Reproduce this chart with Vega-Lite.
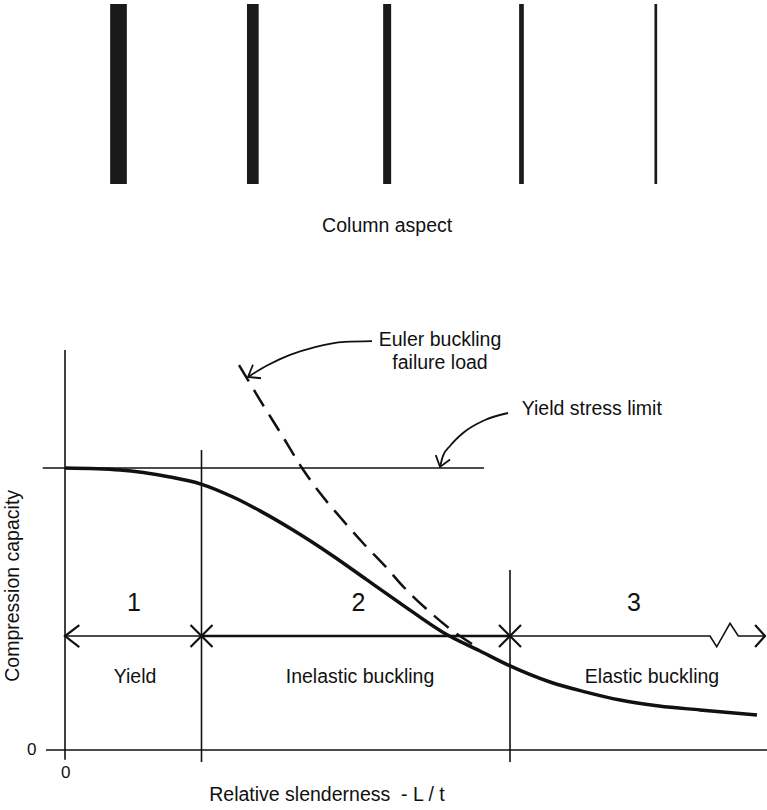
{
  "$schema": "https://vega.github.io/schema/vega-lite/v6.json",
  "padding": 0,
  "spacing": 0,
  "background": "white",
  "config": {"view": {"stroke": null}, "font": "Liberation Sans"},
  "datasets": {
    "columns": [
      {"column": 1, "thickness": 16.7, "bottom": 0, "top": 1},
      {"column": 2, "thickness": 11.7, "bottom": 0, "top": 1},
      {"column": 3, "thickness": 8.0, "bottom": 0, "top": 1},
      {"column": 4, "thickness": 4.7, "bottom": 0, "top": 1},
      {"column": 5, "thickness": 2.7, "bottom": 0, "top": 1}
    ],
    "frame": [
      {"name": "capacity axis", "x": 0, "x2": 0, "y": -0.035, "y2": 1.418},
      {"name": "slenderness axis", "x": -0.19, "x2": 7.02, "y": 0, "y2": 0},
      {"name": "yield stress limit", "x": -0.223, "x2": 4.19, "y": 1.0, "y2": 1.0},
      {"name": "yield / inelastic", "x": 1.365, "x2": 1.365, "y": -0.043, "y2": 1.064},
      {"name": "inelastic / elastic", "x": 4.45, "x2": 4.45, "y": -0.043, "y2": 0.638}
    ],
    "zones": [
      {"span": "yield", "weight": "outer", "order": 1, "x": 0, "y": 0.404},
      {"span": "yield", "weight": "outer", "order": 2, "x": 1.365, "y": 0.404},
      {"span": "inelastic", "weight": "inner", "order": 1, "x": 1.365, "y": 0.404},
      {"span": "inelastic", "weight": "inner", "order": 2, "x": 4.45, "y": 0.404},
      {"span": "elastic", "weight": "outer", "order": 1, "x": 4.45, "y": 0.404},
      {"span": "elastic", "weight": "outer", "order": 2, "x": 6.45, "y": 0.404},
      {"span": "elastic", "weight": "outer", "order": 3, "x": 6.517, "y": 0.366},
      {"span": "elastic", "weight": "outer", "order": 4, "x": 6.65, "y": 0.449},
      {"span": "elastic", "weight": "outer", "order": 5, "x": 6.733, "y": 0.404},
      {"span": "elastic", "weight": "outer", "order": 6, "x": 7.0, "y": 0.404}
    ],
    "markers": [
      {"marker": "start", "x": 0, "y": 0.404},
      {"marker": "divider", "x": 1.365, "y": 0.404},
      {"marker": "divider", "x": 4.45, "y": 0.404},
      {"marker": "end", "x": 7.0, "y": 0.404}
    ],
    "capacity": [
      {"x": 0, "y": 1.0},
      {"x": 0.55, "y": 0.993},
      {"x": 1.05, "y": 0.968},
      {"x": 1.36, "y": 0.943},
      {"x": 1.68, "y": 0.897},
      {"x": 1.95, "y": 0.848},
      {"x": 2.28, "y": 0.78},
      {"x": 2.68, "y": 0.688},
      {"x": 3.02, "y": 0.603},
      {"x": 3.35, "y": 0.521},
      {"x": 3.79, "y": 0.415},
      {"x": 4.15, "y": 0.351},
      {"x": 4.45, "y": 0.298},
      {"x": 4.85, "y": 0.241},
      {"x": 5.2, "y": 0.206},
      {"x": 5.55, "y": 0.177},
      {"x": 5.94, "y": 0.156},
      {"x": 6.35, "y": 0.142},
      {"x": 6.92, "y": 0.124}
    ],
    "euler": [
      {"x": 1.74, "y": 1.365},
      {"x": 1.95, "y": 1.241},
      {"x": 2.18, "y": 1.11},
      {"x": 2.37, "y": 1.0},
      {"x": 2.55, "y": 0.911},
      {"x": 2.75, "y": 0.826},
      {"x": 2.98, "y": 0.734},
      {"x": 3.22, "y": 0.645},
      {"x": 3.35, "y": 0.592},
      {"x": 3.65, "y": 0.489},
      {"x": 3.92, "y": 0.411},
      {"x": 4.07, "y": 0.376}
    ],
    "pointers": [
      {"arrow": "euler", "x": 3.07, "y": 1.45},
      {"arrow": "euler", "x": 2.8, "y": 1.447},
      {"arrow": "euler", "x": 2.5, "y": 1.429},
      {"arrow": "euler", "x": 2.25, "y": 1.401},
      {"arrow": "euler", "x": 2.03, "y": 1.365},
      {"arrow": "euler", "x": 1.83, "y": 1.323},
      {"arrow": "yield", "x": 4.43, "y": 1.195},
      {"arrow": "yield", "x": 4.2, "y": 1.17},
      {"arrow": "yield", "x": 3.98, "y": 1.124},
      {"arrow": "yield", "x": 3.85, "y": 1.078},
      {"arrow": "yield", "x": 3.78, "y": 1.043},
      {"arrow": "yield", "x": 3.75, "y": 1.004}
    ],
    "labels": [
      {"role": "zone", "text": "1", "x": 0.69, "y": 0.521},
      {"role": "zone", "text": "2", "x": 2.935, "y": 0.521},
      {"role": "zone", "text": "3", "x": 5.69, "y": 0.521},
      {"role": "regime", "text": "Yield", "x": 0.7, "y": 0.26},
      {"role": "regime", "text": "Inelastic buckling", "x": 2.95, "y": 0.26},
      {"role": "regime", "text": "Elastic buckling", "x": 5.87, "y": 0.26},
      {"role": "regime", "text": "Euler buckling", "x": 3.75, "y": 1.454},
      {"role": "regime", "text": "failure load", "x": 3.75, "y": 1.372},
      {"role": "regime", "text": "Relative slenderness\u00a0 - L / t", "x": 2.62, "y": -0.16},
      {"role": "tick", "text": "0", "x": -0.333, "y": 0},
      {"role": "tick", "text": "0", "x": 0.007, "y": -0.08}
    ]
  },
  "vconcat": [
    {
      "width": 767,
      "height": 250,
      "layer": [
        {
          "data": {"name": "columns"},
          "mark": {"type": "bar", "color": "#1a1a1a", "orient": "vertical"},
          "encoding": {
            "x": {"field": "column", "type": "quantitative", "scale": {"domain": [0.155, 5.7906], "nice": false, "zero": false}, "axis": null},
            "y": {"field": "bottom", "type": "quantitative", "scale": {"domain": [-0.3667, 1.0222], "nice": false, "zero": false}, "axis": null},
            "y2": {"field": "top"},
            "size": {"field": "thickness", "type": "quantitative", "scale": {"domain": [0, 16.7], "range": [0, 16.7], "zero": true}, "legend": null}
          }
        },
        {
          "data": {"values": [{"text": "Column aspect", "column": 3, "y": -0.2333}]},
          "mark": {"type": "text", "fontSize": 19.5, "color": "#111", "align": "center", "baseline": "middle"},
          "encoding": {
            "x": {"field": "column", "type": "quantitative"},
            "y": {"field": "y", "type": "quantitative"},
            "text": {"field": "text"}
          }
        }
      ]
    },
    {
      "width": 767,
      "height": 560,
      "encoding": {
        "x": {"field": "x", "type": "quantitative", "scale": {"domain": [-0.65, 7.02], "nice": false, "zero": false}, "axis": null},
        "y": {"field": "y", "type": "quantitative", "scale": {"domain": [-0.2128, 1.773], "nice": false, "zero": false}, "axis": null}
      },
      "layer": [
        {
          "data": {"name": "frame"},
          "mark": {"type": "rule", "color": "#111", "strokeWidth": 1.6},
          "encoding": {"x2": {"field": "x2"}, "y2": {"field": "y2"}}
        },
        {
          "data": {"name": "zones"},
          "mark": {"type": "line", "color": "#111"},
          "encoding": {
            "order": {"field": "order", "type": "quantitative"},
            "detail": {"field": "span", "type": "nominal"},
            "size": {"field": "weight", "type": "ordinal", "scale": {"domain": ["outer", "inner"], "range": [1.6, 2.6]}, "legend": null}
          }
        },
        {
          "data": {"name": "markers"},
          "mark": {"type": "point", "filled": false, "stroke": "#111", "strokeWidth": 2.2, "opacity": 1, "size": 484},
          "encoding": {
            "shape": {"field": "marker", "type": "nominal", "legend": null,
              "scale": {"domain": ["start", "divider", "end"], "range": ["M1.3,-1L0,0L1.3,1", "M-1,-1L1,1M-1,1L1,-1", "M-0.9,-1L0,0L-0.9,1"]}}
          }
        },
        {
          "data": {"name": "euler"},
          "mark": {"type": "line", "color": "#111", "strokeWidth": 2.5, "strokeDash": [19, 10], "interpolate": "monotone"}
        },
        {
          "data": {"name": "capacity"},
          "mark": {"type": "line", "color": "#111", "strokeWidth": 3.5, "interpolate": "monotone"}
        },
        {
          "data": {"name": "pointers"},
          "mark": {"type": "line", "color": "#111", "strokeWidth": 1.8, "interpolate": "monotone"},
          "encoding": {"detail": {"field": "arrow", "type": "nominal"}}
        },
        {
          "data": {"values": [{"arrow": "euler", "x": 1.83, "y": 1.323}]},
          "mark": {"type": "point", "filled": false, "stroke": "#111", "strokeWidth": 1.8, "opacity": 1, "size": 440, "shape": "M-1,-0.75L0,0L-1,0.75", "angle": 149}
        },
        {
          "data": {"values": [{"arrow": "yield", "x": 3.75, "y": 1.004}]},
          "mark": {"type": "point", "filled": false, "stroke": "#111", "strokeWidth": 1.8, "opacity": 1, "size": 400, "shape": "M-1,-0.75L0,0L-1,0.75", "angle": 107}
        },
        {
          "data": {"name": "labels"},
          "transform": [{"filter": "datum.role === 'zone'"}],
          "mark": {"type": "text", "fontSize": 25, "color": "#111", "align": "center", "baseline": "middle"},
          "encoding": {"text": {"field": "text"}}
        },
        {
          "data": {"name": "labels"},
          "transform": [{"filter": "datum.role === 'regime'"}],
          "mark": {"type": "text", "fontSize": 19.5, "color": "#111", "align": "center", "baseline": "middle"},
          "encoding": {"text": {"field": "text"}}
        },
        {
          "data": {"name": "labels"},
          "transform": [{"filter": "datum.role === 'tick'"}],
          "mark": {"type": "text", "fontSize": 17, "color": "#111", "align": "center", "baseline": "middle"},
          "encoding": {"text": {"field": "text"}}
        },
        {
          "data": {"values": [{"text": "Yield stress limit", "x": 4.567, "y": 1.209}]},
          "mark": {"type": "text", "fontSize": 19.5, "color": "#111", "align": "left", "baseline": "middle"},
          "encoding": {"text": {"field": "text"}}
        },
        {
          "data": {"values": [{"text": "Compression capacity", "x": -0.52, "y": 0.582}]},
          "mark": {"type": "text", "fontSize": 19.5, "color": "#111", "align": "center", "baseline": "middle", "angle": 270},
          "encoding": {"text": {"field": "text"}}
        }
      ]
    }
  ]
}
